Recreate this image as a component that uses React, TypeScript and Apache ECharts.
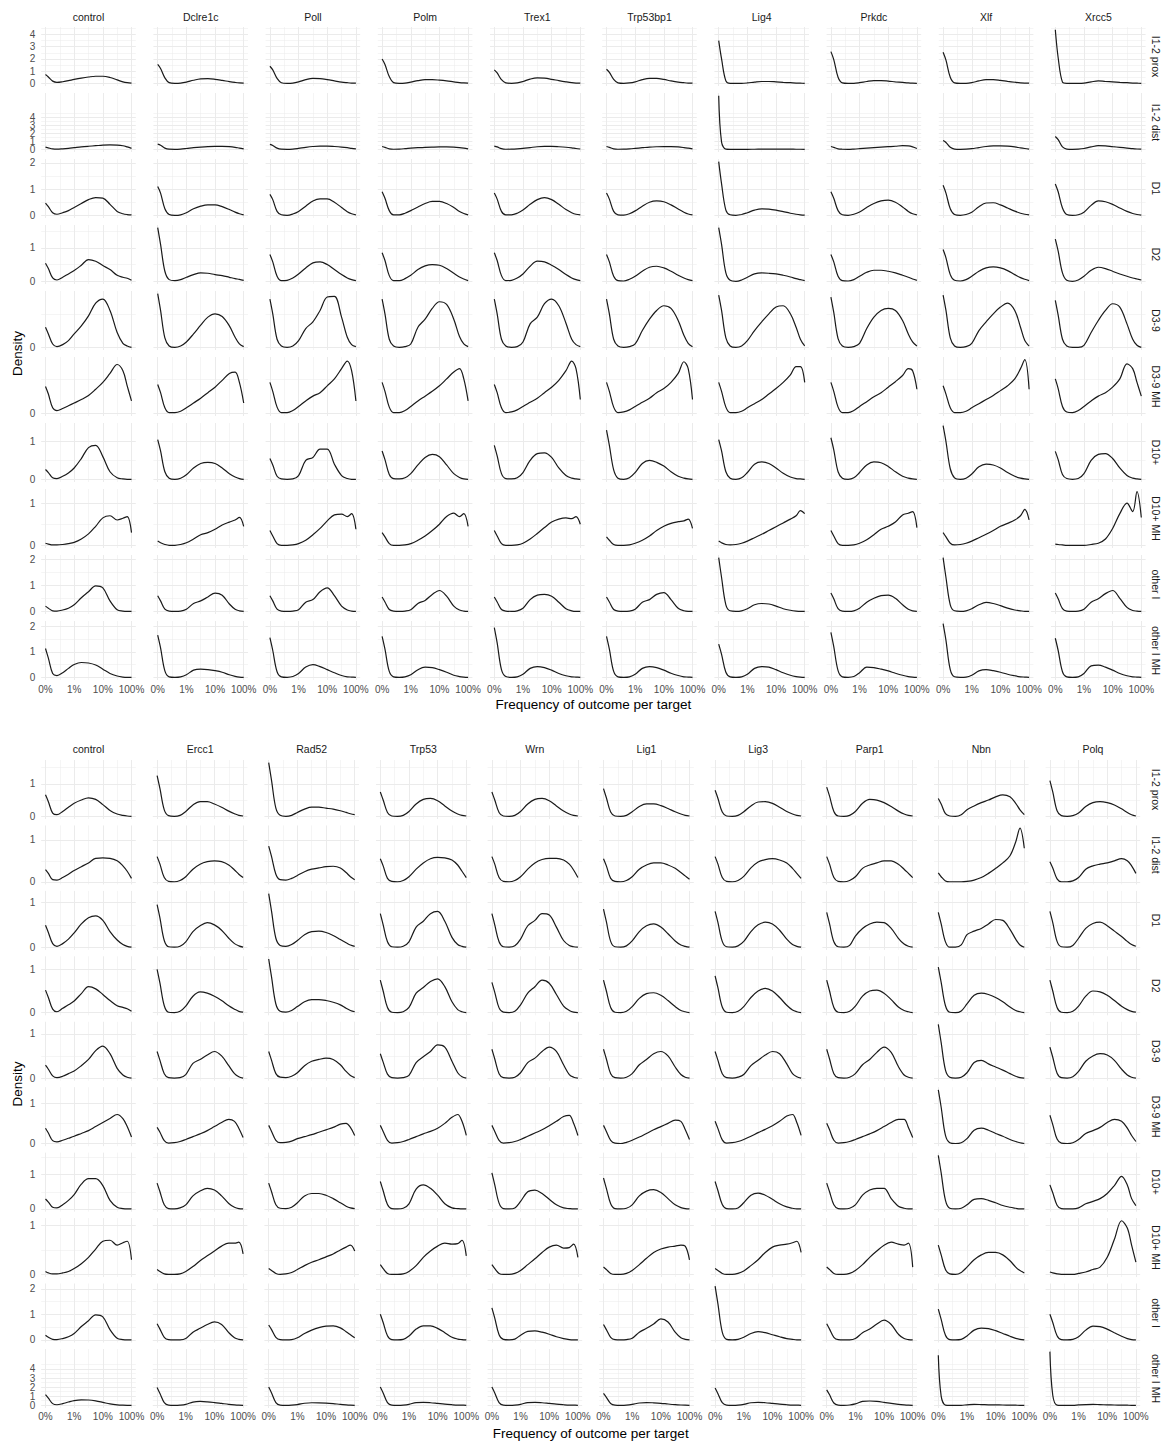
import React, { useEffect, useRef } from "react";
import * as echarts from "echarts";

// Positions on the pseudo-log frequency axis (0 = 0%, 1 = 1%, 2 = 10%, 3 = 100%)
const X_POS = [0, 0.1, 0.25, 0.4, 0.6, 0.8, 1.0, 1.25, 1.5, 1.75, 2.0, 2.25, 2.5, 2.7, 2.85, 3.0];
const X_TICKS = [0, 1, 2, 3];
const X_TICK_LABELS = ["0%", "1%", "10%", "100%"];
const X_MINOR = [0.5, 1.5, 2.5];
const Y_BREAKS = [0, 1, 2, 3, 4];

const OUTCOMES = ["I1-2 prox", "I1-2 dist", "D1", "D2", "D3-9", "D3-9 MH", "D10+", "D10+ MH", "other I", "other I MH"];
const GENES_A = ["control", "Dclre1c", "Poll", "Polm", "Trex1", "Trp53bp1", "Lig4", "Prkdc", "Xlf", "Xrcc5"];
const GENES_B = ["control", "Ercc1", "Rad52", "Trp53", "Wrn", "Lig1", "Lig3", "Parp1", "Nbn", "Polq"];

// ---- Panel A densities (one curve per gene, sampled at X_POS) ----
const A_I12_PROX = [
  [0.72, 0.52, 0.18, 0.08, 0.13, 0.22, 0.32, 0.43, 0.52, 0.58, 0.58, 0.48, 0.28, 0.12, 0.05, 0.02],
  [1.55, 1.22, 0.45, 0.06, 0.0, 0.02, 0.1, 0.25, 0.36, 0.38, 0.33, 0.24, 0.14, 0.07, 0.03, 0.02],
  [1.4, 1.1, 0.4, 0.05, 0.0, 0.02, 0.12, 0.3, 0.4, 0.38, 0.3, 0.2, 0.1, 0.05, 0.02, 0.01],
  [2.0, 1.55, 0.55, 0.06, 0.0, 0.02, 0.1, 0.22, 0.3, 0.3, 0.26, 0.2, 0.12, 0.06, 0.03, 0.01],
  [1.1, 0.85, 0.3, 0.04, 0.0, 0.03, 0.15, 0.35, 0.45, 0.42, 0.33, 0.22, 0.12, 0.05, 0.02, 0.01],
  [1.15, 0.9, 0.32, 0.04, 0.0, 0.03, 0.12, 0.3, 0.4, 0.4, 0.32, 0.2, 0.1, 0.05, 0.02, 0.01],
  [3.5, 2.0, 0.2, 0.0, 0.0, 0.0, 0.03, 0.1, 0.15, 0.15, 0.12, 0.08, 0.05, 0.02, 0.01, 0.0],
  [2.6, 1.95, 0.5, 0.04, 0.0, 0.0, 0.05, 0.15, 0.22, 0.22, 0.18, 0.12, 0.07, 0.03, 0.01, 0.0],
  [2.55, 1.9, 0.5, 0.04, 0.0, 0.0, 0.05, 0.2, 0.3, 0.3, 0.24, 0.16, 0.09, 0.04, 0.02, 0.01],
  [4.4, 2.1, 0.1, 0.0, 0.0, 0.0, 0.02, 0.12, 0.2, 0.15, 0.12, 0.08, 0.05, 0.02, 0.01, 0.0],
];
const A_I12_DIST = [
  [0.27, 0.18, 0.05, 0.02, 0.06, 0.12, 0.2, 0.3, 0.38, 0.45, 0.52, 0.55, 0.53, 0.45, 0.3, 0.12],
  [0.64, 0.5, 0.15, 0.02, 0.0, 0.03, 0.1, 0.2, 0.28, 0.34, 0.37, 0.37, 0.33, 0.25, 0.15, 0.06],
  [0.62, 0.48, 0.15, 0.02, 0.0, 0.03, 0.12, 0.25, 0.35, 0.4, 0.4, 0.35, 0.28, 0.2, 0.12, 0.05],
  [0.35, 0.25, 0.06, 0.01, 0.03, 0.08, 0.14, 0.2, 0.25, 0.28, 0.3, 0.3, 0.28, 0.22, 0.15, 0.06],
  [0.4, 0.3, 0.08, 0.01, 0.02, 0.06, 0.12, 0.22, 0.32, 0.36, 0.36, 0.32, 0.26, 0.18, 0.1, 0.04],
  [0.35, 0.25, 0.06, 0.01, 0.02, 0.06, 0.12, 0.2, 0.28, 0.32, 0.34, 0.34, 0.3, 0.22, 0.14, 0.05],
  [6.7, 0.9, 0.02, 0.0, 0.0, 0.0, 0.0, 0.01, 0.02, 0.03, 0.03, 0.02, 0.02, 0.01, 0.01, 0.0],
  [0.35, 0.25, 0.06, 0.01, 0.0, 0.03, 0.08, 0.15, 0.22, 0.28, 0.33, 0.38, 0.45, 0.42, 0.3, 0.1],
  [1.1, 0.85, 0.25, 0.03, 0.0, 0.02, 0.08, 0.22, 0.35, 0.42, 0.44, 0.4, 0.3, 0.18, 0.1, 0.03],
  [1.6, 1.2, 0.3, 0.03, 0.0, 0.02, 0.1, 0.3, 0.45, 0.42, 0.33, 0.25, 0.16, 0.08, 0.04, 0.02],
];
const A_D1 = [
  [0.47, 0.33, 0.1, 0.04, 0.1, 0.18, 0.3, 0.45, 0.6, 0.68, 0.66, 0.42, 0.15, 0.06, 0.03, 0.02],
  [1.1, 0.85, 0.25, 0.03, 0.0, 0.02, 0.1, 0.25, 0.35, 0.4, 0.4, 0.33, 0.22, 0.12, 0.06, 0.02],
  [0.8, 0.6, 0.15, 0.02, 0.0, 0.05, 0.15, 0.35, 0.55, 0.63, 0.63, 0.5, 0.3, 0.14, 0.06, 0.02],
  [0.9, 0.65, 0.18, 0.02, 0.02, 0.08, 0.18, 0.32, 0.45, 0.53, 0.53, 0.45, 0.3, 0.15, 0.07, 0.02],
  [0.85, 0.62, 0.15, 0.02, 0.02, 0.08, 0.2, 0.42, 0.6, 0.68, 0.6, 0.42, 0.22, 0.1, 0.04, 0.02],
  [0.85, 0.62, 0.15, 0.02, 0.01, 0.06, 0.17, 0.35, 0.5, 0.55, 0.52, 0.4, 0.24, 0.12, 0.05, 0.02],
  [2.05, 1.2, 0.2, 0.02, 0.0, 0.03, 0.1, 0.2, 0.25, 0.24, 0.2, 0.14, 0.08, 0.04, 0.02, 0.01],
  [0.9, 0.65, 0.18, 0.02, 0.0, 0.04, 0.13, 0.3, 0.45, 0.55, 0.58, 0.5, 0.32, 0.15, 0.06, 0.02],
  [1.15, 0.85, 0.25, 0.03, 0.0, 0.03, 0.12, 0.33, 0.47, 0.48, 0.4, 0.28, 0.16, 0.08, 0.04, 0.02],
  [1.2, 0.9, 0.28, 0.03, 0.0, 0.02, 0.12, 0.38, 0.55, 0.52, 0.42, 0.28, 0.15, 0.07, 0.03, 0.01],
];
const A_D2 = [
  [0.54, 0.38, 0.1, 0.04, 0.12, 0.22, 0.32, 0.48, 0.65, 0.6, 0.47, 0.35, 0.18, 0.12, 0.09, 0.03],
  [1.6, 1.1, 0.3, 0.05, 0.02, 0.05, 0.12, 0.2, 0.25, 0.24, 0.2, 0.17, 0.12, 0.08, 0.06, 0.03],
  [0.8, 0.58, 0.15, 0.02, 0.03, 0.1, 0.22, 0.4, 0.55, 0.58, 0.5, 0.35, 0.2, 0.1, 0.05, 0.02],
  [0.85, 0.62, 0.17, 0.02, 0.02, 0.08, 0.18, 0.35, 0.46, 0.5, 0.48, 0.38, 0.24, 0.13, 0.07, 0.02],
  [0.85, 0.62, 0.17, 0.02, 0.03, 0.1, 0.22, 0.45, 0.6, 0.58, 0.48, 0.35, 0.2, 0.1, 0.05, 0.02],
  [0.8, 0.58, 0.15, 0.02, 0.01, 0.06, 0.15, 0.3, 0.42, 0.45, 0.4, 0.3, 0.18, 0.1, 0.05, 0.02],
  [1.6, 1.1, 0.25, 0.03, 0.0, 0.04, 0.12, 0.22, 0.25, 0.24, 0.22, 0.18, 0.13, 0.08, 0.05, 0.02],
  [0.8, 0.58, 0.15, 0.02, 0.01, 0.05, 0.15, 0.27, 0.33, 0.33, 0.3, 0.25, 0.18, 0.12, 0.07, 0.03],
  [0.95, 0.7, 0.2, 0.03, 0.01, 0.05, 0.15, 0.3, 0.4, 0.43, 0.4, 0.32, 0.2, 0.11, 0.06, 0.02],
  [1.26, 0.9, 0.25, 0.03, 0.0, 0.04, 0.15, 0.33, 0.42, 0.38, 0.3, 0.22, 0.15, 0.1, 0.07, 0.04],
];
const A_D39 = [
  [0.3, 0.2, 0.05, 0.01, 0.04, 0.1, 0.2, 0.32, 0.47, 0.66, 0.72, 0.55, 0.22, 0.06, 0.02, 0.0],
  [0.8, 0.55, 0.14, 0.02, 0.0, 0.02, 0.08, 0.2, 0.33, 0.45, 0.5, 0.46, 0.32, 0.15, 0.05, 0.01],
  [0.72, 0.5, 0.12, 0.02, 0.0, 0.02, 0.1, 0.28, 0.38, 0.55, 0.75, 0.76, 0.45, 0.15, 0.04, 0.01],
  [0.72, 0.5, 0.12, 0.02, 0.0, 0.01, 0.05, 0.3, 0.42, 0.58, 0.68, 0.64, 0.42, 0.16, 0.05, 0.01],
  [0.72, 0.5, 0.12, 0.02, 0.0, 0.01, 0.08, 0.35, 0.45, 0.65, 0.72, 0.62, 0.36, 0.12, 0.04, 0.01],
  [0.72, 0.5, 0.12, 0.02, 0.0, 0.01, 0.05, 0.25, 0.42, 0.55, 0.62, 0.58, 0.4, 0.18, 0.06, 0.01],
  [0.78, 0.55, 0.14, 0.02, 0.0, 0.02, 0.1, 0.25, 0.38, 0.5, 0.6, 0.62, 0.5, 0.3, 0.12, 0.02],
  [0.75, 0.52, 0.13, 0.02, 0.0, 0.01, 0.06, 0.28, 0.45, 0.55, 0.58, 0.55, 0.4, 0.2, 0.08, 0.02],
  [0.78, 0.55, 0.14, 0.02, 0.0, 0.01, 0.06, 0.25, 0.38, 0.5, 0.6, 0.66, 0.55, 0.3, 0.1, 0.02],
  [0.7, 0.48, 0.12, 0.02, 0.0, 0.0, 0.03, 0.22, 0.4, 0.55, 0.65, 0.6, 0.35, 0.12, 0.03, 0.0],
];
const A_D39_MH = [
  [0.39, 0.28, 0.08, 0.04, 0.07, 0.11, 0.15, 0.2, 0.26, 0.35, 0.45, 0.58, 0.71, 0.62, 0.4, 0.18],
  [0.42, 0.3, 0.08, 0.01, 0.01, 0.03, 0.08, 0.15, 0.22, 0.3, 0.38, 0.48, 0.58, 0.6, 0.45, 0.15],
  [0.45, 0.32, 0.09, 0.01, 0.01, 0.04, 0.1, 0.18, 0.25, 0.3, 0.4, 0.5, 0.65, 0.76, 0.62, 0.18],
  [0.45, 0.32, 0.09, 0.01, 0.01, 0.04, 0.1, 0.18, 0.25, 0.32, 0.4, 0.5, 0.6, 0.65, 0.5, 0.18],
  [0.42, 0.3, 0.08, 0.01, 0.02, 0.05, 0.1, 0.16, 0.22, 0.3, 0.38, 0.48, 0.62, 0.76, 0.65, 0.2],
  [0.45, 0.32, 0.09, 0.01, 0.02, 0.05, 0.1, 0.16, 0.22, 0.3, 0.36, 0.45, 0.58, 0.75, 0.65, 0.2],
  [0.45, 0.32, 0.09, 0.01, 0.01, 0.03, 0.08, 0.14, 0.2, 0.28, 0.36, 0.45, 0.56, 0.68, 0.68, 0.45],
  [0.45, 0.32, 0.09, 0.01, 0.01, 0.04, 0.1, 0.17, 0.24, 0.3, 0.38, 0.46, 0.55, 0.65, 0.62, 0.35],
  [0.4, 0.28, 0.08, 0.01, 0.01, 0.03, 0.08, 0.14, 0.2, 0.26, 0.33, 0.4, 0.5, 0.65, 0.78, 0.35],
  [0.5, 0.36, 0.1, 0.02, 0.01, 0.04, 0.1, 0.18, 0.25, 0.3, 0.38, 0.5, 0.72, 0.65, 0.45, 0.25],
];
const A_D10 = [
  [0.26, 0.18, 0.04, 0.02, 0.08, 0.17, 0.3, 0.55, 0.84, 0.9, 0.6, 0.2, 0.04, 0.01, 0.0, 0.0],
  [1.05, 0.75, 0.2, 0.03, 0.0, 0.03, 0.12, 0.3, 0.42, 0.45, 0.42, 0.3, 0.15, 0.06, 0.02, 0.0],
  [0.55, 0.38, 0.08, 0.01, 0.0, 0.01, 0.1, 0.5, 0.58, 0.8, 0.8, 0.4, 0.1, 0.02, 0.0, 0.0],
  [0.75, 0.52, 0.13, 0.02, 0.01, 0.04, 0.15, 0.38, 0.58, 0.66, 0.6, 0.38, 0.15, 0.05, 0.01, 0.0],
  [0.9, 0.62, 0.15, 0.02, 0.01, 0.04, 0.18, 0.5, 0.68, 0.7, 0.58, 0.3, 0.1, 0.03, 0.01, 0.0],
  [1.3, 0.9, 0.25, 0.03, 0.0, 0.04, 0.18, 0.42, 0.5, 0.45, 0.35, 0.2, 0.08, 0.03, 0.01, 0.0],
  [1.05, 0.75, 0.2, 0.03, 0.0, 0.04, 0.18, 0.4, 0.46, 0.42, 0.3, 0.16, 0.06, 0.02, 0.01, 0.0],
  [1.1, 0.78, 0.2, 0.03, 0.0, 0.04, 0.18, 0.38, 0.46, 0.44, 0.34, 0.2, 0.08, 0.03, 0.01, 0.0],
  [1.42, 1.0, 0.28, 0.04, 0.0, 0.03, 0.14, 0.33, 0.4, 0.38, 0.3, 0.18, 0.08, 0.03, 0.01, 0.0],
  [0.74, 0.52, 0.13, 0.02, 0.0, 0.02, 0.15, 0.5, 0.66, 0.68, 0.55, 0.3, 0.1, 0.03, 0.01, 0.0],
];
const A_D10_MH = [
  [0.05, 0.03, 0.01, 0.01, 0.02, 0.04, 0.07, 0.15, 0.27, 0.45, 0.65, 0.7, 0.6, 0.64, 0.68, 0.3],
  [0.1, 0.06, 0.02, 0.0, 0.0, 0.02, 0.06, 0.15, 0.25, 0.3, 0.38, 0.48, 0.55, 0.6, 0.66, 0.45],
  [0.35, 0.22, 0.04, 0.0, 0.0, 0.01, 0.04, 0.12, 0.25, 0.4, 0.58, 0.72, 0.74, 0.68, 0.75, 0.38],
  [0.3, 0.2, 0.04, 0.0, 0.0, 0.01, 0.04, 0.12, 0.22, 0.35, 0.5, 0.68, 0.76, 0.68, 0.75, 0.45],
  [0.35, 0.22, 0.04, 0.0, 0.0, 0.01, 0.05, 0.15, 0.28, 0.42, 0.55, 0.62, 0.65, 0.63, 0.68, 0.5],
  [0.2, 0.12, 0.02, 0.0, 0.0, 0.01, 0.05, 0.12, 0.22, 0.35, 0.45, 0.52, 0.56, 0.58, 0.62, 0.4],
  [0.1, 0.06, 0.02, 0.01, 0.02, 0.05, 0.1, 0.18, 0.26, 0.35, 0.44, 0.53, 0.62, 0.7, 0.82, 0.75],
  [0.35, 0.22, 0.04, 0.0, 0.0, 0.01, 0.05, 0.13, 0.25, 0.38, 0.45, 0.55, 0.72, 0.76, 0.8, 0.42],
  [0.3, 0.2, 0.05, 0.01, 0.02, 0.05, 0.1, 0.18, 0.26, 0.35, 0.45, 0.52, 0.6, 0.7, 0.85, 0.6],
  [0.03, 0.02, 0.01, 0.0, 0.0, 0.0, 0.0, 0.02, 0.05, 0.15, 0.4, 0.75, 1.0, 0.8, 1.27, 0.66],
];
const A_OTHER_I = [
  [0.2, 0.12, 0.02, 0.01, 0.05, 0.12, 0.25, 0.52, 0.75, 0.98, 0.9, 0.4, 0.06, 0.01, 0.0, 0.0],
  [0.6, 0.4, 0.08, 0.01, 0.0, 0.01, 0.08, 0.3, 0.4, 0.55, 0.7, 0.62, 0.28, 0.08, 0.02, 0.0],
  [0.6, 0.4, 0.08, 0.01, 0.0, 0.01, 0.06, 0.35, 0.45, 0.75, 0.9, 0.6, 0.2, 0.05, 0.01, 0.0],
  [0.55, 0.36, 0.07, 0.01, 0.0, 0.01, 0.06, 0.3, 0.42, 0.65, 0.8, 0.58, 0.2, 0.05, 0.01, 0.0],
  [0.55, 0.36, 0.07, 0.01, 0.0, 0.02, 0.12, 0.45, 0.62, 0.65, 0.58, 0.35, 0.1, 0.02, 0.0, 0.0],
  [0.55, 0.36, 0.07, 0.01, 0.0, 0.01, 0.08, 0.35, 0.45, 0.65, 0.72, 0.45, 0.12, 0.02, 0.0, 0.0],
  [2.06, 1.3, 0.25, 0.02, 0.0, 0.02, 0.1, 0.25, 0.3, 0.28, 0.2, 0.1, 0.04, 0.01, 0.0, 0.0],
  [0.7, 0.48, 0.1, 0.01, 0.0, 0.02, 0.12, 0.35, 0.5, 0.6, 0.62, 0.5, 0.25, 0.08, 0.02, 0.0],
  [2.06, 1.3, 0.25, 0.02, 0.0, 0.02, 0.1, 0.25, 0.34, 0.3, 0.22, 0.12, 0.05, 0.02, 0.0, 0.0],
  [0.7, 0.48, 0.1, 0.01, 0.0, 0.01, 0.08, 0.35, 0.48, 0.68, 0.8, 0.5, 0.15, 0.03, 0.01, 0.0],
];
const A_OTHER_I_MH = [
  [1.13, 0.75, 0.15, 0.07, 0.18, 0.35, 0.5, 0.58, 0.56, 0.48, 0.32, 0.15, 0.05, 0.01, 0.0, 0.0],
  [1.65, 1.15, 0.25, 0.02, 0.0, 0.02, 0.1, 0.28, 0.32, 0.3, 0.26, 0.2, 0.1, 0.04, 0.01, 0.0],
  [1.55, 1.05, 0.22, 0.02, 0.0, 0.03, 0.15, 0.4, 0.5, 0.42, 0.3, 0.18, 0.07, 0.02, 0.01, 0.0],
  [1.6, 1.1, 0.23, 0.02, 0.0, 0.02, 0.1, 0.3, 0.4, 0.38, 0.3, 0.2, 0.08, 0.03, 0.01, 0.0],
  [1.95, 1.35, 0.3, 0.03, 0.0, 0.02, 0.12, 0.35, 0.42, 0.38, 0.28, 0.15, 0.06, 0.02, 0.01, 0.0],
  [1.6, 1.1, 0.23, 0.02, 0.0, 0.02, 0.12, 0.35, 0.42, 0.38, 0.28, 0.16, 0.07, 0.02, 0.01, 0.0],
  [1.3, 0.9, 0.2, 0.02, 0.0, 0.02, 0.12, 0.35, 0.42, 0.4, 0.3, 0.18, 0.08, 0.03, 0.01, 0.0],
  [1.76, 1.2, 0.26, 0.02, 0.0, 0.03, 0.18, 0.4, 0.38, 0.32, 0.25, 0.16, 0.08, 0.03, 0.01, 0.0],
  [2.1, 1.45, 0.3, 0.02, 0.0, 0.01, 0.08, 0.25, 0.3, 0.26, 0.2, 0.12, 0.06, 0.02, 0.01, 0.0],
  [1.53, 1.05, 0.22, 0.02, 0.0, 0.02, 0.15, 0.45, 0.48, 0.4, 0.28, 0.15, 0.06, 0.02, 0.01, 0.0],
];

// ---- Panel B densities ----
const B_I12_PROX = [
  [0.66, 0.45, 0.1, 0.05, 0.15, 0.28, 0.4, 0.5, 0.57, 0.52, 0.36, 0.18, 0.07, 0.03, 0.01, 0.0],
  [1.25, 0.85, 0.2, 0.02, 0.0, 0.03, 0.15, 0.35, 0.45, 0.45, 0.38, 0.28, 0.16, 0.08, 0.03, 0.01],
  [1.65, 1.1, 0.25, 0.03, 0.0, 0.03, 0.12, 0.22, 0.28, 0.28, 0.25, 0.22, 0.17, 0.12, 0.08, 0.05],
  [0.75, 0.5, 0.12, 0.01, 0.0, 0.03, 0.15, 0.38, 0.52, 0.55, 0.48, 0.32, 0.16, 0.07, 0.03, 0.01],
  [0.75, 0.5, 0.12, 0.01, 0.0, 0.03, 0.15, 0.38, 0.52, 0.55, 0.48, 0.32, 0.16, 0.07, 0.03, 0.01],
  [0.85, 0.57, 0.13, 0.01, 0.0, 0.03, 0.14, 0.3, 0.38, 0.38, 0.33, 0.24, 0.14, 0.07, 0.03, 0.01],
  [0.8, 0.55, 0.13, 0.01, 0.0, 0.03, 0.14, 0.32, 0.44, 0.45, 0.4, 0.28, 0.15, 0.07, 0.03, 0.01],
  [0.9, 0.62, 0.15, 0.01, 0.0, 0.03, 0.15, 0.4, 0.52, 0.5, 0.42, 0.3, 0.16, 0.07, 0.03, 0.01],
  [0.55, 0.38, 0.08, 0.01, 0.0, 0.05, 0.2, 0.32, 0.42, 0.5, 0.6, 0.66, 0.6, 0.4, 0.2, 0.05],
  [1.1, 0.75, 0.17, 0.02, 0.0, 0.02, 0.1, 0.3, 0.42, 0.45, 0.42, 0.35, 0.23, 0.12, 0.05, 0.01],
];
const B_I12_DIST = [
  [0.29, 0.2, 0.05, 0.04, 0.1, 0.18, 0.27, 0.36, 0.45, 0.56, 0.57, 0.56, 0.5, 0.38, 0.25, 0.08],
  [0.6, 0.42, 0.1, 0.01, 0.0, 0.03, 0.12, 0.3, 0.42, 0.48, 0.5, 0.48, 0.4, 0.28, 0.18, 0.1],
  [0.85, 0.6, 0.18, 0.05, 0.04, 0.08, 0.15, 0.24, 0.3, 0.33, 0.36, 0.37, 0.33, 0.22, 0.12, 0.05],
  [0.55, 0.38, 0.08, 0.01, 0.0, 0.03, 0.12, 0.3, 0.45, 0.55, 0.58, 0.57, 0.52, 0.4, 0.25, 0.1],
  [0.6, 0.42, 0.1, 0.01, 0.0, 0.03, 0.12, 0.3, 0.45, 0.53, 0.56, 0.56, 0.52, 0.42, 0.28, 0.1],
  [0.55, 0.38, 0.08, 0.01, 0.0, 0.03, 0.12, 0.3, 0.4, 0.45, 0.45, 0.4, 0.32, 0.22, 0.14, 0.06],
  [0.6, 0.42, 0.1, 0.01, 0.0, 0.03, 0.13, 0.33, 0.47, 0.53, 0.55, 0.52, 0.45, 0.32, 0.2, 0.08],
  [0.6, 0.42, 0.1, 0.01, 0.0, 0.03, 0.12, 0.32, 0.4, 0.45, 0.5, 0.5, 0.42, 0.3, 0.2, 0.1],
  [0.21, 0.12, 0.02, 0.0, 0.0, 0.0, 0.01, 0.04, 0.1, 0.2, 0.32, 0.45, 0.62, 0.95, 1.28, 0.8],
  [0.48, 0.33, 0.07, 0.0, 0.0, 0.02, 0.1, 0.3, 0.38, 0.42, 0.45, 0.5, 0.55, 0.5, 0.38, 0.2],
];
const B_D1 = [
  [0.49, 0.33, 0.08, 0.02, 0.08, 0.18, 0.32, 0.52, 0.66, 0.7, 0.6, 0.35, 0.16, 0.06, 0.02, 0.0],
  [0.95, 0.65, 0.15, 0.01, 0.0, 0.02, 0.12, 0.35, 0.48, 0.55, 0.5, 0.38, 0.2, 0.08, 0.03, 0.0],
  [1.2, 0.8, 0.2, 0.04, 0.02, 0.06, 0.15, 0.28, 0.35, 0.36, 0.33, 0.26, 0.17, 0.1, 0.05, 0.02],
  [0.75, 0.5, 0.12, 0.01, 0.0, 0.02, 0.12, 0.45, 0.58, 0.75, 0.8, 0.58, 0.22, 0.06, 0.02, 0.0],
  [0.75, 0.5, 0.12, 0.01, 0.0, 0.03, 0.18, 0.48, 0.6, 0.75, 0.72, 0.45, 0.15, 0.04, 0.01, 0.0],
  [0.85, 0.57, 0.13, 0.01, 0.0, 0.03, 0.14, 0.35, 0.48, 0.52, 0.45, 0.3, 0.14, 0.05, 0.02, 0.0],
  [0.8, 0.55, 0.13, 0.01, 0.0, 0.03, 0.13, 0.35, 0.5, 0.56, 0.52, 0.38, 0.18, 0.06, 0.02, 0.0],
  [0.78, 0.52, 0.12, 0.01, 0.0, 0.04, 0.25, 0.42, 0.52, 0.56, 0.55, 0.42, 0.2, 0.07, 0.02, 0.0],
  [0.78, 0.52, 0.12, 0.0, 0.0, 0.05, 0.28, 0.36, 0.42, 0.52, 0.62, 0.6, 0.4, 0.18, 0.05, 0.0],
  [0.8, 0.55, 0.13, 0.01, 0.0, 0.04, 0.2, 0.42, 0.53, 0.56, 0.48, 0.36, 0.24, 0.13, 0.06, 0.02],
];
const B_D2 = [
  [0.52, 0.35, 0.08, 0.02, 0.1, 0.18, 0.27, 0.44, 0.6, 0.55, 0.42, 0.28, 0.16, 0.12, 0.09, 0.03],
  [1.0, 0.68, 0.16, 0.01, 0.0, 0.03, 0.15, 0.38, 0.48, 0.45, 0.38, 0.28, 0.16, 0.08, 0.03, 0.01],
  [1.24, 0.82, 0.2, 0.03, 0.01, 0.05, 0.14, 0.25, 0.3, 0.3, 0.28, 0.24, 0.18, 0.1, 0.05, 0.02],
  [0.75, 0.5, 0.12, 0.01, 0.0, 0.02, 0.12, 0.45, 0.58, 0.72, 0.78, 0.6, 0.25, 0.07, 0.02, 0.0],
  [0.7, 0.47, 0.11, 0.01, 0.0, 0.03, 0.18, 0.45, 0.6, 0.75, 0.68, 0.42, 0.15, 0.05, 0.01, 0.0],
  [0.75, 0.5, 0.12, 0.01, 0.0, 0.03, 0.14, 0.33, 0.44, 0.46, 0.4, 0.28, 0.14, 0.05, 0.02, 0.0],
  [0.85, 0.57, 0.13, 0.01, 0.0, 0.03, 0.14, 0.35, 0.5, 0.56, 0.5, 0.35, 0.17, 0.06, 0.02, 0.0],
  [0.75, 0.5, 0.12, 0.01, 0.0, 0.03, 0.15, 0.38, 0.5, 0.52, 0.45, 0.3, 0.13, 0.05, 0.02, 0.0],
  [1.05, 0.7, 0.16, 0.01, 0.0, 0.04, 0.2, 0.4, 0.45, 0.42, 0.35, 0.25, 0.13, 0.05, 0.02, 0.0],
  [0.75, 0.5, 0.12, 0.01, 0.0, 0.03, 0.15, 0.38, 0.5, 0.48, 0.4, 0.28, 0.15, 0.07, 0.03, 0.01],
];
const B_D39 = [
  [0.29, 0.2, 0.05, 0.01, 0.04, 0.1, 0.16, 0.28, 0.42, 0.62, 0.72, 0.55, 0.22, 0.07, 0.02, 0.0],
  [0.6, 0.4, 0.1, 0.01, 0.0, 0.01, 0.08, 0.33, 0.42, 0.52, 0.6, 0.5, 0.28, 0.1, 0.03, 0.0],
  [0.6, 0.4, 0.1, 0.02, 0.01, 0.04, 0.12, 0.28, 0.38, 0.42, 0.45, 0.42, 0.3, 0.15, 0.06, 0.01],
  [0.55, 0.36, 0.09, 0.01, 0.0, 0.01, 0.06, 0.35, 0.48, 0.6, 0.75, 0.7, 0.38, 0.12, 0.03, 0.0],
  [0.65, 0.43, 0.1, 0.01, 0.0, 0.02, 0.12, 0.35, 0.45, 0.6, 0.7, 0.6, 0.3, 0.08, 0.02, 0.0],
  [0.65, 0.43, 0.1, 0.01, 0.0, 0.02, 0.1, 0.3, 0.42, 0.55, 0.6, 0.5, 0.25, 0.08, 0.02, 0.0],
  [0.6, 0.4, 0.1, 0.01, 0.0, 0.02, 0.08, 0.28, 0.4, 0.52, 0.6, 0.55, 0.32, 0.1, 0.03, 0.0],
  [0.65, 0.43, 0.1, 0.01, 0.0, 0.02, 0.1, 0.3, 0.42, 0.58, 0.7, 0.58, 0.26, 0.07, 0.02, 0.0],
  [1.21, 0.8, 0.18, 0.02, 0.0, 0.02, 0.12, 0.35, 0.4, 0.32, 0.25, 0.18, 0.1, 0.04, 0.01, 0.0],
  [0.7, 0.47, 0.11, 0.01, 0.0, 0.03, 0.15, 0.38, 0.5, 0.55, 0.52, 0.4, 0.2, 0.07, 0.02, 0.0],
];
const B_D39_MH = [
  [0.38, 0.26, 0.07, 0.04, 0.08, 0.13, 0.18, 0.25, 0.32, 0.42, 0.52, 0.62, 0.72, 0.62, 0.42, 0.16],
  [0.4, 0.28, 0.07, 0.01, 0.02, 0.05, 0.1, 0.17, 0.24, 0.32, 0.42, 0.52, 0.6, 0.55, 0.38, 0.15],
  [0.45, 0.3, 0.08, 0.02, 0.03, 0.06, 0.12, 0.17, 0.22, 0.28, 0.34, 0.4, 0.48, 0.5, 0.4, 0.2],
  [0.45, 0.3, 0.08, 0.01, 0.02, 0.05, 0.1, 0.17, 0.24, 0.3, 0.38, 0.5, 0.65, 0.72, 0.55, 0.2],
  [0.45, 0.3, 0.08, 0.01, 0.02, 0.05, 0.1, 0.18, 0.26, 0.34, 0.44, 0.55, 0.67, 0.7, 0.5, 0.2],
  [0.45, 0.3, 0.08, 0.01, 0.0, 0.03, 0.08, 0.16, 0.25, 0.34, 0.42, 0.5, 0.58, 0.55, 0.35, 0.1],
  [0.55, 0.37, 0.09, 0.01, 0.02, 0.05, 0.1, 0.18, 0.27, 0.35, 0.44, 0.55, 0.68, 0.72, 0.52, 0.2],
  [0.5, 0.34, 0.08, 0.01, 0.02, 0.05, 0.1, 0.17, 0.24, 0.32, 0.42, 0.52, 0.6, 0.6, 0.4, 0.15],
  [1.33, 0.9, 0.2, 0.02, 0.0, 0.02, 0.12, 0.33, 0.38, 0.33, 0.25, 0.18, 0.1, 0.05, 0.02, 0.0],
  [0.7, 0.47, 0.11, 0.01, 0.0, 0.02, 0.1, 0.25, 0.32, 0.4, 0.52, 0.6, 0.55, 0.38, 0.2, 0.05],
];
const B_D10 = [
  [0.29, 0.2, 0.05, 0.03, 0.12, 0.25, 0.42, 0.72, 0.88, 0.88, 0.68, 0.25, 0.05, 0.01, 0.0, 0.0],
  [0.75, 0.5, 0.12, 0.01, 0.0, 0.03, 0.12, 0.38, 0.52, 0.6, 0.55, 0.38, 0.16, 0.05, 0.01, 0.0],
  [0.75, 0.5, 0.12, 0.02, 0.01, 0.05, 0.18, 0.38, 0.45, 0.45, 0.4, 0.3, 0.18, 0.08, 0.03, 0.01],
  [0.8, 0.53, 0.13, 0.01, 0.0, 0.02, 0.15, 0.58, 0.7, 0.6, 0.4, 0.15, 0.03, 0.01, 0.0, 0.0],
  [1.05, 0.7, 0.17, 0.01, 0.0, 0.03, 0.22, 0.5, 0.55, 0.45, 0.28, 0.12, 0.03, 0.01, 0.0, 0.0],
  [0.9, 0.6, 0.15, 0.01, 0.0, 0.02, 0.12, 0.38, 0.52, 0.56, 0.48, 0.3, 0.12, 0.04, 0.01, 0.0],
  [0.8, 0.53, 0.13, 0.01, 0.0, 0.03, 0.18, 0.4, 0.46, 0.4, 0.28, 0.15, 0.06, 0.02, 0.0, 0.0],
  [0.75, 0.5, 0.12, 0.01, 0.0, 0.02, 0.12, 0.4, 0.55, 0.6, 0.6, 0.3, 0.08, 0.02, 0.0, 0.0],
  [1.56, 1.05, 0.25, 0.02, 0.0, 0.02, 0.12, 0.28, 0.3, 0.25, 0.18, 0.1, 0.05, 0.02, 0.0, 0.0],
  [0.7, 0.47, 0.11, 0.01, 0.0, 0.0, 0.03, 0.15, 0.22, 0.3, 0.45, 0.68, 0.95, 0.7, 0.3, 0.1],
];
const B_D10_MH = [
  [0.06, 0.03, 0.01, 0.01, 0.03, 0.06, 0.12, 0.22, 0.35, 0.52, 0.68, 0.7, 0.6, 0.65, 0.68, 0.3],
  [0.1, 0.06, 0.01, 0.0, 0.0, 0.01, 0.06, 0.16, 0.28, 0.38, 0.48, 0.58, 0.64, 0.64, 0.66, 0.42],
  [0.12, 0.08, 0.02, 0.0, 0.01, 0.04, 0.1, 0.18, 0.25, 0.3, 0.36, 0.42, 0.5, 0.56, 0.6, 0.48],
  [0.2, 0.12, 0.02, 0.0, 0.0, 0.01, 0.06, 0.18, 0.35, 0.48, 0.58, 0.64, 0.62, 0.63, 0.7, 0.38],
  [0.2, 0.12, 0.02, 0.0, 0.0, 0.02, 0.08, 0.2, 0.32, 0.45, 0.56, 0.6, 0.54, 0.55, 0.62, 0.35],
  [0.15, 0.1, 0.02, 0.0, 0.0, 0.02, 0.08, 0.2, 0.33, 0.45, 0.52, 0.56, 0.58, 0.6, 0.58, 0.3],
  [0.12, 0.08, 0.02, 0.0, 0.0, 0.02, 0.07, 0.18, 0.3, 0.45, 0.56, 0.6, 0.62, 0.65, 0.68, 0.45],
  [0.15, 0.1, 0.02, 0.0, 0.0, 0.02, 0.08, 0.2, 0.35, 0.48, 0.6, 0.66, 0.62, 0.6, 0.64, 0.15],
  [0.6, 0.4, 0.1, 0.01, 0.0, 0.04, 0.15, 0.3, 0.4, 0.45, 0.45, 0.4, 0.28, 0.15, 0.08, 0.03],
  [0.05, 0.03, 0.01, 0.0, 0.0, 0.0, 0.02, 0.05, 0.1, 0.15, 0.35, 0.72, 1.1, 0.95, 0.6, 0.25],
];
const B_OTHER_I = [
  [0.18, 0.1, 0.02, 0.01, 0.05, 0.12, 0.25, 0.52, 0.75, 0.98, 0.9, 0.4, 0.06, 0.01, 0.0, 0.0],
  [0.63, 0.42, 0.1, 0.01, 0.0, 0.0, 0.05, 0.3, 0.45, 0.6, 0.7, 0.6, 0.28, 0.08, 0.02, 0.0],
  [0.58, 0.4, 0.1, 0.01, 0.0, 0.01, 0.08, 0.25, 0.38, 0.48, 0.54, 0.55, 0.47, 0.32, 0.2, 0.08],
  [1.0, 0.68, 0.16, 0.01, 0.0, 0.02, 0.15, 0.42, 0.55, 0.55, 0.45, 0.28, 0.1, 0.03, 0.01, 0.0],
  [1.25, 0.85, 0.2, 0.02, 0.0, 0.03, 0.18, 0.33, 0.35, 0.3, 0.22, 0.12, 0.05, 0.01, 0.0, 0.0],
  [0.6, 0.4, 0.1, 0.01, 0.0, 0.01, 0.06, 0.3, 0.45, 0.62, 0.82, 0.7, 0.3, 0.08, 0.02, 0.0],
  [2.1, 1.4, 0.3, 0.02, 0.0, 0.02, 0.1, 0.25, 0.32, 0.28, 0.2, 0.12, 0.05, 0.02, 0.0, 0.0],
  [0.63, 0.42, 0.1, 0.01, 0.0, 0.0, 0.05, 0.28, 0.42, 0.62, 0.77, 0.6, 0.22, 0.05, 0.01, 0.0],
  [1.2, 0.8, 0.18, 0.01, 0.0, 0.02, 0.15, 0.38, 0.46, 0.44, 0.36, 0.25, 0.14, 0.06, 0.02, 0.0],
  [1.0, 0.68, 0.16, 0.01, 0.0, 0.02, 0.12, 0.38, 0.54, 0.52, 0.42, 0.28, 0.14, 0.05, 0.01, 0.0],
];
const B_OTHER_I_MH = [
  [1.16, 0.78, 0.18, 0.06, 0.18, 0.36, 0.52, 0.6, 0.58, 0.48, 0.32, 0.15, 0.05, 0.01, 0.0, 0.0],
  [1.95, 1.3, 0.3, 0.02, 0.0, 0.02, 0.1, 0.35, 0.42, 0.38, 0.3, 0.2, 0.1, 0.04, 0.01, 0.0],
  [2.0, 1.35, 0.3, 0.02, 0.0, 0.02, 0.08, 0.22, 0.28, 0.27, 0.24, 0.18, 0.1, 0.05, 0.02, 0.0],
  [2.0, 1.35, 0.3, 0.02, 0.0, 0.02, 0.1, 0.3, 0.32, 0.28, 0.2, 0.12, 0.06, 0.02, 0.01, 0.0],
  [2.0, 1.35, 0.3, 0.02, 0.0, 0.02, 0.1, 0.3, 0.33, 0.28, 0.2, 0.12, 0.06, 0.02, 0.01, 0.0],
  [1.3, 0.88, 0.2, 0.02, 0.0, 0.02, 0.1, 0.25, 0.3, 0.27, 0.22, 0.14, 0.07, 0.03, 0.01, 0.0],
  [1.9, 1.28, 0.28, 0.02, 0.0, 0.02, 0.1, 0.28, 0.32, 0.28, 0.2, 0.12, 0.06, 0.02, 0.01, 0.0],
  [1.7, 1.15, 0.25, 0.02, 0.0, 0.03, 0.15, 0.42, 0.47, 0.42, 0.32, 0.2, 0.1, 0.04, 0.01, 0.0],
  [5.5, 1.0, 0.02, 0.0, 0.0, 0.0, 0.05, 0.1, 0.08, 0.05, 0.04, 0.03, 0.02, 0.01, 0.0, 0.0],
  [5.9, 1.1, 0.02, 0.0, 0.0, 0.0, 0.04, 0.08, 0.1, 0.07, 0.05, 0.03, 0.02, 0.01, 0.0, 0.0],
];

const ROWS_A = [A_I12_PROX, A_I12_DIST, A_D1, A_D2, A_D39, A_D39_MH, A_D10, A_D10_MH, A_OTHER_I, A_OTHER_I_MH];
const ROWS_B = [B_I12_PROX, B_I12_DIST, B_D1, B_D2, B_D39, B_D39_MH, B_D10, B_D10_MH, B_OTHER_I, B_OTHER_I_MH];

// Page layout of the two facet grids
const FONT = '"Liberation Sans", Arial, Helvetica, sans-serif';
const PANEL_H = 59;
const DATA_W = 86;
const LAYOUT = [
  { genes: GENES_A, rows: ROWS_A, rowTop: 27, rowPitch: 66, dataLeft: 45.5, colPitch: 112.2, headerY: 17, titleY: 704 },
  { genes: GENES_B, rows: ROWS_B, rowTop: 760, rowPitch: 65.44, dataLeft: 45.5, colPitch: 111.6, headerY: 749, titleY: 1433 },
];
const STRIP_X = 1156;
const GRID_COLOR = "#EBEBEB";
const TICK_COLOR = "#4D4D4D";
const TEXT_COLOR = "#1A1A1A";

function yLabelStyle(show: boolean, values: number[]) {
  return {
    show: show && values.length > 0, customValues: values, interval: 0,
    showMinLabel: true, showMaxLabel: true, hideOverlap: false,
    formatter: (v: number) => String(Math.round(v)),
    color: TICK_COLOR, fontSize: 10, margin: 6, fontFamily: FONT,
  };
}

function buildOption() {
  const grid: any[] = [];
  const xAxis: any[] = [];
  const yAxis: any[] = [];
  const series: any[] = [];
  const graphic: any[] = [];

  LAYOUT.forEach((panel) => {
    const panelW = DATA_W * 1.1;
    panel.rows.forEach((rowCurves, r) => {
      const dMax = Math.max(...rowCurves.map((c) => Math.max(...c)));
      const yMin = -0.05 * dMax;
      const yMax = 1.05 * dMax;
      const majors = Y_BREAKS.filter((v) => v <= yMax);
      const lastMajor = majors[majors.length - 1];
      const minors: number[] = [];
      for (let k = 0; k <= lastMajor; k++) if (k + 0.5 <= yMax) minors.push(k + 0.5);
      // tick labels are split over two coincident axes so that crowded labels all stay visible
      const evenLabels = majors.filter((v) => v % 2 === 0);
      const oddLabels = majors.filter((v) => v % 2 === 1);
      const top = panel.rowTop + r * panel.rowPitch;

      rowCurves.forEach((vals, c) => {
        const g = grid.length;
        const left = panel.dataLeft + c * panel.colPitch - 0.05 * DATA_W;
        grid.push({ left, top, width: panelW, height: PANEL_H, containLabel: false });

        xAxis.push({
          type: "value", gridIndex: g, min: -0.15, max: 3.15, position: "bottom",
          axisLine: { show: false, onZero: false },
          axisTick: { show: false, customValues: X_TICKS },
          axisLabel: {
            show: r === panel.rows.length - 1, customValues: X_TICKS, interval: 0,
            showMinLabel: true, showMaxLabel: true, hideOverlap: false,
            formatter: (v: number) => X_TICK_LABELS[Math.round(v)] ?? "",
            color: TICK_COLOR, fontSize: 10, margin: 4, fontFamily: FONT,
          },
          splitLine: { show: true, lineStyle: { color: GRID_COLOR, width: 1 } },
        });
        xAxis.push({
          type: "value", gridIndex: g, min: -0.15, max: 3.15, position: "top",
          axisLine: { show: false, onZero: false },
          axisTick: { show: false, customValues: X_MINOR },
          axisLabel: { show: false },
          splitLine: { show: true, lineStyle: { color: GRID_COLOR, width: 0.5 } },
        });
        yAxis.push({
          type: "value", gridIndex: g, min: yMin, max: yMax, position: "left",
          axisLine: { show: false, onZero: false },
          axisTick: { show: false, customValues: majors },
          axisLabel: yLabelStyle(c === 0, evenLabels),
          splitLine: { show: true, lineStyle: { color: GRID_COLOR, width: 1 } },
        });
        yAxis.push({
          type: "value", gridIndex: g, min: yMin, max: yMax, position: "left", offset: 0,
          axisLine: { show: false, onZero: false },
          axisTick: { show: false, customValues: minors },
          axisLabel: yLabelStyle(c === 0, oddLabels),
          splitLine: { show: true, lineStyle: { color: GRID_COLOR, width: 0.5 } },
        });

        series.push({
          type: "line", xAxisIndex: 2 * g, yAxisIndex: 2 * g,
          data: X_POS.map((x, i) => [x, vals[i]]),
          smooth: 0.35, showSymbol: false, symbol: "none", silent: true, z: 3,
          lineStyle: { color: TEXT_COLOR, width: 1.2 },
        });
      });

      graphic.push({
        type: "text", x: STRIP_X, y: top + PANEL_H / 2, rotation: -Math.PI / 2,
        style: { text: OUTCOMES[r], fill: TEXT_COLOR, fontSize: 10.5, fontFamily: FONT, align: "center", verticalAlign: "middle" },
      });
    });

    panel.genes.forEach((gname, c) => {
      graphic.push({
        type: "text", x: panel.dataLeft + c * panel.colPitch + DATA_W / 2, y: panel.headerY,
        style: { text: gname, fill: TEXT_COLOR, fontSize: 10.5, fontFamily: FONT, align: "center", verticalAlign: "middle" },
      });
    });

    const firstTop = panel.rowTop;
    const lastBottom = panel.rowTop + (panel.rows.length - 1) * panel.rowPitch + PANEL_H;
    graphic.push({
      type: "text", x: 17, y: (firstTop + lastBottom) / 2, rotation: Math.PI / 2,
      style: { text: "Density", fill: "#000", fontSize: 13.5, fontFamily: FONT, align: "center", verticalAlign: "middle" },
    });
    const leftEdge = panel.dataLeft - 0.05 * DATA_W;
    const rightEdge = panel.dataLeft + 9 * panel.colPitch + DATA_W * 1.05;
    graphic.push({
      type: "text", x: (leftEdge + rightEdge) / 2, y: panel.titleY,
      style: { text: "Frequency of outcome per target", fill: "#000", fontSize: 13.5, fontFamily: FONT, align: "center", verticalAlign: "middle" },
    });
  });

  return {
    animation: false,
    backgroundColor: "#ffffff",
    grid, xAxis, yAxis, series, graphic,
  };
}

export default function App() {
  const ref = useRef<HTMLDivElement>(null);
  useEffect(() => {
    if (!ref.current) return;
    const chart = echarts.init(ref.current, undefined, { renderer: "svg" });
    chart.setOption(buildOption() as any);
    return () => chart.dispose();
  }, []);
  return (
    <div
      ref={ref}
      style={{ position: "absolute", left: 0, top: 0, width: 1166, height: 1441, background: "#fff" }}
    />
  );
}
